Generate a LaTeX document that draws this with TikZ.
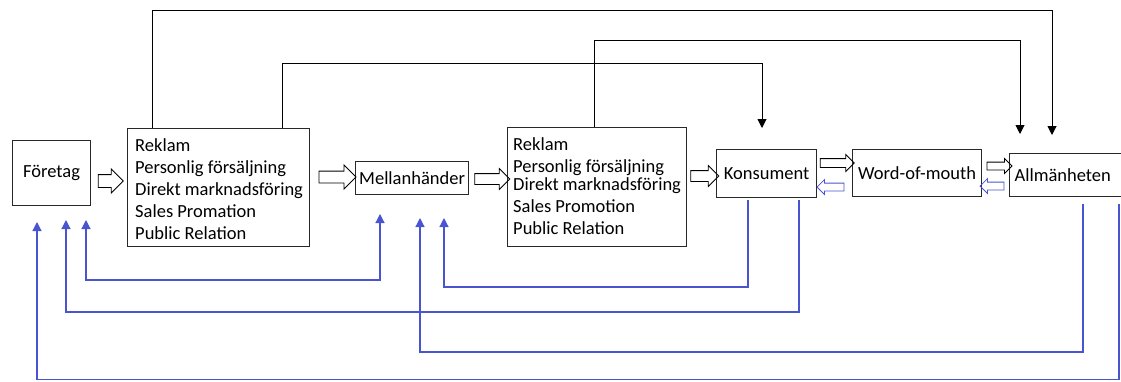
\documentclass[tikz,border=0pt]{standalone}
\usepackage{fontspec}
\setmainfont{Carlito}
\usetikzlibrary{shapes.arrows,arrows.meta,calc}
\definecolor{fbblue}{RGB}{72,84,208}
\definecolor{boxline}{RGB}{40,40,40}

\tikzset{
  box/.style={draw=boxline, line width=1.2pt, inner sep=0pt, anchor=north west},
  lbl/.style={font=\fontsize{18.5}{22}\selectfont},
  listtxt/.style={lbl, anchor=north west, align=left, inner sep=0pt},
  barrow/.style={single arrow, draw=black, line width=0.8pt, inner xsep=0pt,
    single arrow head indent=0pt, shape border rotate=0},
  backarrow/.style={barrow, draw=fbblue, shape border rotate=180},
  topline/.style={draw=black, line width=0.9pt, -{Triangle[width=9pt,length=9pt]}},
  fbline/.style={draw=fbblue, line width=1.2pt, -{Triangle[width=9pt,length=9pt]}},
  fbboth/.style={draw=fbblue, line width=1.2pt,
    {Triangle[width=9pt,length=9pt]}-{Triangle[width=9pt,length=9pt]}}
}

\begin{document}
\begin{tikzpicture}[x=1pt,y=-1pt]
\useasboundingbox (0,0) rectangle (1121,381);

% main chain of boxes
\node[box, lbl, minimum width=78, minimum height=65] (firm) at (12,140) {Företag};
\node[box, minimum width=182, minimum height=118] (tools1) at (127,128) {};
\node[listtxt] (tools1txt) at (135,138) {Reklam\\Personlig försäljning\\Direkt marknadsföring\\Sales Promation\\Public Relation};
\node[box, lbl, minimum width=113, minimum height=33] (middle) at (355,161) {Mellanhänder};
\node[box, minimum width=179, minimum height=119] (tools2) at (507,127) {};
\node[listtxt] (tools2txt) at (513,137) {Reklam\\Personlig försäljning\\[-4pt]Direkt marknadsföring\\Sales Promotion\\Public Relation};
\node[box, lbl, minimum width=100, minimum height=48] (cons) at (716,149) {Konsument};
\node[box, lbl, minimum width=129, minimum height=47] (wom) at (852,149) {Word-of-mouth};
\node[box, lbl, minimum height=43, text width=120, inner xsep=5pt, align=left] (pub) at (1009,153) {Allmänheten};

% hollow block arrows along the chain (body = 2 x inner ysep)
\node[barrow, minimum height=25, inner ysep=6pt, single arrow head extend=5.5pt] (b1) at (107.5,181) {};
\node[barrow, minimum height=37, inner ysep=5.5pt, single arrow head extend=6pt] (b2) at (334.5,177) {};
\node[barrow, minimum height=35, inner ysep=5pt, single arrow head extend=5pt] (b3) at (489.5,179) {};
\node[barrow, minimum height=28, inner ysep=5pt, single arrow head extend=5pt] (b4) at (702,176) {};
\node[barrow, minimum height=34, inner ysep=4pt, single arrow head extend=4pt] (b5) at (835,163) {};
\node[barrow, minimum height=25, inner ysep=3.5pt, single arrow head extend=3.5pt] (b6) at (997.5,166) {};
\node[backarrow, minimum height=27, inner ysep=3.5pt, single arrow head extend=3.5pt] (b7) at (832.5,187) {};
\node[backarrow, minimum height=24, inner ysep=3.5pt, single arrow head extend=3.5pt] (b8) at (994,186) {};

% free ends and corners of the upper connectors
\coordinate (t1) at (1052,135);  \coordinate (t1c) at (1052,10);
\coordinate (t2) at (762,128);   \coordinate (t2c) at (762,63);
\coordinate (t3) at (1020,134);  \coordinate (t3c) at (1020,40);

\draw[topline] ($(tools1.north west)+(25,0)$) |- (t1c) -- (t1);
\draw[topline] ($(tools1.north west)+(155,0)$) |- (t2c) -- (t2);
\draw[topline] ($(tools2.north west)+(87,0)$) |- (t3c) -- (t3);

% free ends and corners of the feedback connectors
\coordinate (fA) at (380,214);   \coordinate (fAc) at (380,280);
\coordinate (fA2) at (86,220);   \coordinate (fA2c) at (86,280);
\coordinate (fB) at (444,218);   \coordinate (fBc) at (444,287);
\coordinate (fC) at (66,220);    \coordinate (fCc) at (66,312);
\coordinate (fD) at (420,218);   \coordinate (fDc) at (420,352);
\coordinate (fE) at (37,222);    \coordinate (fEc) at (37,379.5);

\draw[fbboth] (fA) -- (fAc) -- (fA2c) -- (fA2);
\draw[fbline] ($(cons.south west)+(32,2)$) |- (fBc) -- (fB);
\draw[fbline] ($(cons.south west)+(83,2)$) |- (fCc) -- (fC);
\draw[fbline] ($(pub.south west)+(74,7)$) |- (fDc) -- (fD);
\draw[fbline] ($(pub.south west)+(110,7)$) |- (fEc) -- (fE);
\end{tikzpicture}
\end{document}
